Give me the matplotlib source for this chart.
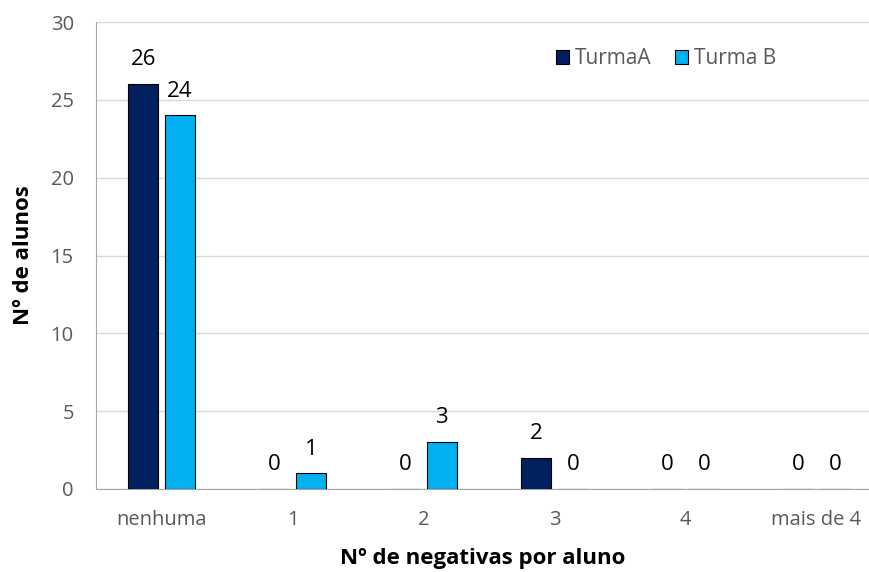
import matplotlib.pyplot as plt
import numpy as np

plt.rcParams['font.family'] = ['Open Sans', 'DejaVu Sans']

categorias = ["nenhuma", "1", "2", "3", "4", "mais de 4"]
turma_a = [26, 0, 0, 2, 0, 0]
turma_b = [24, 1, 3, 0, 0, 0]

cor_a = "#002060"
cor_b = "#00B0F0"
cinza = "#595959"

fig = plt.figure(figsize=(8.7, 5.72), dpi=100)
# o gráfico original está cortado à direita
ax = fig.add_axes([96 / 870, 1 - 489 / 572, (870 - 96) / 870, (489 - 22) / 572])

x = np.arange(len(categorias))
larg = 0.229
desl = 0.14
barras_a = ax.bar(x - desl, turma_a, larg, color=cor_a, edgecolor="black", linewidth=0.8, label="TurmaA", zorder=3)
barras_b = ax.bar(x + desl, turma_b, larg, color=cor_b, edgecolor="black", linewidth=0.8, label="Turma B", zorder=3)

for barras in (barras_a, barras_b):
    for b in barras:
        h = b.get_height()
        ax.annotate(f"{h:g}", (b.get_x() + b.get_width() / 2, h), xytext=(0, 10),
                    textcoords="offset points", ha="center", va="bottom", fontsize=16, color="black")

ax.set_xlim(-0.5, (870 - 96) / 131.0 - 0.5)
ax.set_ylim(0, 30)
ax.set_yticks(range(0, 31, 5))
ax.set_xticks(x)
ax.set_xticklabels(categorias)
ax.tick_params(axis="both", length=0, colors=cinza, labelsize=14.5)
ax.tick_params(axis="x", pad=15)
ax.tick_params(axis="y", pad=16)
ax.yaxis.grid(True, color="#D9D9D9", linewidth=1, zorder=0)
for s in ("top", "right"):
    ax.spines[s].set_visible(False)
ax.spines["left"].set_color("#A6A6A6")
ax.spines["bottom"].set_color("#A6A6A6")

ax.set_ylabel("Nº de alunos", fontsize=16, fontweight="bold", color="black", labelpad=12)
ax.set_xlabel("Nº de negativas por aluno", fontsize=16, fontweight="bold", color="black", labelpad=13)

leg = fig.legend(handles=[barras_a, barras_b], loc="center left", bbox_to_anchor=(556 / 870, 1 - 59 / 572),
                 ncol=2, frameon=False, borderpad=0, borderaxespad=0,
                 fontsize=15, handlelength=0.62, handleheight=0.62, columnspacing=1.1, handletextpad=0.3)
for t in leg.get_texts():
    t.set_color(cinza)

fig.savefig("out.png", dpi=100)
